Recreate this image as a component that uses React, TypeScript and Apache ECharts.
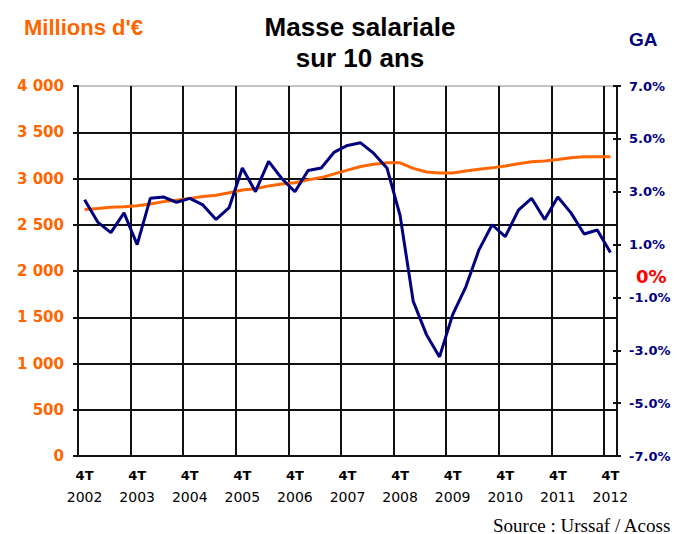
import React, { useEffect, useRef } from 'react';
import * as echarts from 'echarts';

const quarters = [
  '4T 2002',
  '1T 2003', '2T 2003', '3T 2003', '4T 2003',
  '1T 2004', '2T 2004', '3T 2004', '4T 2004',
  '1T 2005', '2T 2005', '3T 2005', '4T 2005',
  '1T 2006', '2T 2006', '3T 2006', '4T 2006',
  '1T 2007', '2T 2007', '3T 2007', '4T 2007',
  '1T 2008', '2T 2008', '3T 2008', '4T 2008',
  '1T 2009', '2T 2009', '3T 2009', '4T 2009',
  '1T 2010', '2T 2010', '3T 2010', '4T 2010',
  '1T 2011', '2T 2011', '3T 2011', '4T 2011',
  '1T 2012', '2T 2012', '3T 2012', '4T 2012',
];

// Masse salariale (millions d'euros)
const masseSalariale = [
  2665, 2675, 2690, 2695, 2705, 2725, 2750, 2765, 2785, 2805,
  2820, 2845, 2875, 2890, 2920, 2940, 2955, 2985, 3010, 3050,
  3090, 3130, 3155, 3170, 3170, 3110, 3070, 3060, 3060, 3080,
  3100, 3115, 3135, 3160, 3180, 3190, 3205, 3225, 3235, 3235, 3235,
];

// Glissement annuel (%)
const glissementAnnuel = [
  2.7, 1.85, 1.45, 2.2, 1.0, 2.75, 2.8, 2.6, 2.75, 2.5,
  1.95, 2.4, 3.9, 3.0, 4.15, 3.5, 3.0, 3.8, 3.9, 4.5,
  4.75, 4.85, 4.45, 3.9, 2.1, -1.15, -2.4, -3.25, -1.65, -0.6,
  0.8, 1.75, 1.3, 2.3, 2.75, 1.95, 2.8, 2.2, 1.4, 1.55, 0.7,
];

const leftMin = 0;
const leftMax = 4000;
const leftStep = 500;
const rightMin = -7;
const rightMax = 7;
const rightStep = 2;

const ORANGE = '#FF6600';
const NAVY = '#000080';

export default function App() {
  const ref = useRef<HTMLDivElement>(null);
  useEffect(() => {
    const chart = echarts.init(ref.current as HTMLDivElement, null, { renderer: 'svg' });
    const splitColors = ['#111', '#111', '#111', '#111', '#111', '#111', '#111', '#111', '#c4c4c4'];
    chart.setOption({
      animation: false,
      backgroundColor: '#fff',
      grid: { left: 78, right: 63, top: 86, bottom: 78 },
      xAxis: {
        type: 'category',
        data: quarters,
        boundaryGap: true,
        axisLine: { onZero: false, lineStyle: { color: '#111', width: 2 } },
        axisTick: { interval: 3, length: 5, lineStyle: { color: '#111', width: 2 } },
        splitLine: { show: true, interval: 3, lineStyle: { color: '#111', width: 2 } },
        axisLabel: {
          interval: 3,
          margin: 8,
          formatter: (v: string) => {
            const parts = v.split(' ');
            return '{a|' + parts[0] + '}\n{b|' + parts[1] + '}';
          },
          rich: {
            a: { fontFamily: 'DejaVu Sans', fontWeight: 'bold', fontSize: 13, lineHeight: 22, color: '#000' },
            b: { fontFamily: 'DejaVu Sans', fontSize: 14, lineHeight: 22, color: '#000' },
          },
        },
      },
      yAxis: [
        {
          type: 'value',
          position: 'left',
          min: leftMin,
          max: leftMax,
          interval: leftStep,
          axisLine: { show: true, lineStyle: { color: '#111', width: 2 } },
          axisTick: { show: true, length: 5, lineStyle: { color: '#111', width: 2 } },
          splitLine: { show: true, lineStyle: { color: splitColors, width: 2 } },
          axisLabel: {
            margin: 14,
            color: ORANGE,
            fontFamily: 'DejaVu Sans',
            fontWeight: 'bold',
            fontSize: 15,
            formatter: (v: number) => {
              const s = String(Math.round(v));
              return s.length > 3 ? s.slice(0, s.length - 3) + ' ' + s.slice(-3) : s;
            },
          },
        },
        {
          type: 'value',
          position: 'right',
          min: rightMin,
          max: rightMax,
          interval: rightStep,
          axisLine: { show: true, lineStyle: { color: '#111', width: 2 } },
          axisTick: { show: true, length: 4, lineStyle: { color: '#111', width: 2 } },
          splitLine: { show: false },
          axisLabel: {
            margin: 12,
            color: NAVY,
            fontFamily: 'DejaVu Sans',
            fontWeight: 'bold',
            fontSize: 13,
            formatter: (v: number) => v.toFixed(1) + '%',
          },
        },
        {
          type: 'value',
          position: 'right',
          min: rightMin,
          max: rightMax,
          interval: rightStep,
          axisLine: { show: false },
          axisTick: { show: true, inside: true, length: 4, lineStyle: { color: '#111', width: 2 } },
          splitLine: { show: false },
          axisLabel: { show: false },
        },
      ],
      series: [
        {
          type: 'line',
          name: 'Masse salariale',
          yAxisIndex: 0,
          data: masseSalariale,
          symbol: 'none',
          lineStyle: { color: ORANGE, width: 3 },
          itemStyle: { color: ORANGE },
        },
        {
          type: 'line',
          name: 'GA',
          yAxisIndex: 1,
          data: glissementAnnuel,
          symbol: 'none',
          lineStyle: { color: NAVY, width: 3 },
          itemStyle: { color: NAVY },
        },
      ],
      graphic: [
        {
          type: 'text',
          x: 360,
          y: 27,
          style: {
            text: 'Masse salariale',
            fill: '#000',
            font: 'bold 26px "Liberation Sans"',
            align: 'center',
            verticalAlign: 'middle',
          },
        },
        {
          type: 'text',
          x: 360,
          y: 58,
          style: {
            text: 'sur 10 ans',
            fill: '#000',
            font: 'bold 26px "Liberation Sans"',
            align: 'center',
            verticalAlign: 'middle',
          },
        },
        {
          type: 'text',
          x: 24,
          y: 27,
          style: {
            text: "Millions d'€",
            fill: ORANGE,
            font: 'bold 22px "Liberation Sans"',
            verticalAlign: 'middle',
          },
        },
        {
          type: 'text',
          x: 629,
          y: 39,
          style: {
            text: 'GA',
            fill: NAVY,
            font: 'bold 19px "Liberation Sans"',
            verticalAlign: 'middle',
          },
        },
        {
          type: 'text',
          x: 636,
          y: 276,
          style: {
            text: '0%',
            fill: '#FF0000',
            font: 'bold 18px "DejaVu Sans"',
            verticalAlign: 'middle',
          },
        },
        {
          type: 'text',
          x: 493,
          y: 525,
          style: {
            text: 'Source : Urssaf / Acoss',
            fill: '#000',
            font: '19px "Liberation Serif"',
            verticalAlign: 'middle',
          },
        },
      ],
    });
    return () => chart.dispose();
  }, []);
  return (
    <div
      ref={ref}
      style={{ position: 'fixed', left: 0, top: 0, width: 680, height: 534, background: '#fff' }}
    />
  );
}
